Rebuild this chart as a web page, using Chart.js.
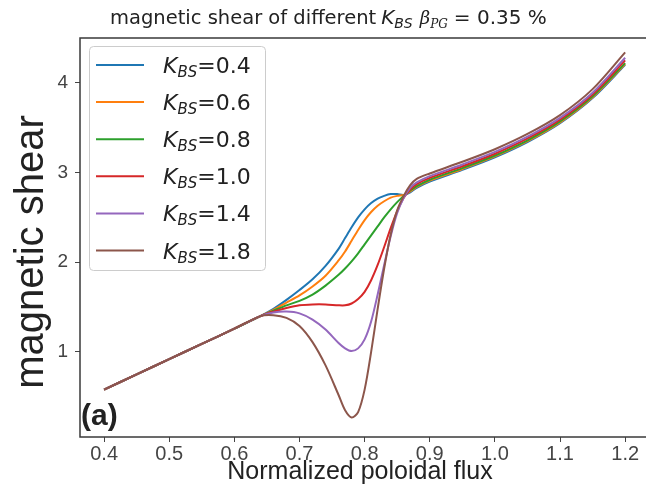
<!DOCTYPE html>
<html>
<head>
<meta charset="utf-8">
<script src="https://cdn.jsdelivr.net/npm/chart.js@4.4.1/dist/chart.umd.min.js"></script>
<style>
  html, body { margin: 0; padding: 0; background: #fff; }
</style>
</head>
<body>
<canvas id="shearCanvas" width="646" height="495"></canvas>
<script>
// normalized poloidal flux (x) shared by every curve
const fluxX = [0.40, 0.45, 0.50, 0.55, 0.60, 0.64, 0.66, 0.68, 0.70, 0.72, 0.74, 0.76, 0.77, 0.78, 0.79, 0.80,
               0.81, 0.82, 0.83, 0.84, 0.85, 0.86, 0.87, 0.88, 0.90, 0.95, 1.00, 1.05, 1.10, 1.15, 1.20];

const kbsLabels = ["0.4", "0.6", "0.8", "1.0", "1.4", "1.8"];

// magnetic shear, one array per K_BS
const shear04 = [0.58, 0.75, 0.92, 1.09, 1.26, 1.40, 1.48, 1.58, 1.69, 1.81, 1.96, 2.15, 2.27, 2.39, 2.50, 2.59,
                 2.66, 2.71, 2.74, 2.76, 2.76, 2.75, 2.78, 2.83, 2.90, 3.03, 3.17, 3.34, 3.55, 3.83, 4.20];
const shear06 = [0.58, 0.75, 0.92, 1.09, 1.26, 1.40, 1.47, 1.55, 1.63, 1.73, 1.85, 2.02, 2.12, 2.24, 2.36, 2.47,
                 2.56, 2.63, 2.68, 2.72, 2.74, 2.75, 2.79, 2.84, 2.91, 3.04, 3.18, 3.35, 3.56, 3.84, 4.21];
const shear08 = [0.58, 0.75, 0.92, 1.09, 1.26, 1.40, 1.46, 1.52, 1.57, 1.64, 1.74, 1.86, 1.93, 2.01, 2.10, 2.20,
                 2.30, 2.40, 2.50, 2.59, 2.67, 2.74, 2.80, 2.85, 2.92, 3.05, 3.19, 3.36, 3.57, 3.85, 4.22];
const shear10 = [0.58, 0.75, 0.92, 1.09, 1.26, 1.40, 1.45, 1.49, 1.52, 1.53, 1.53, 1.52, 1.52, 1.54, 1.59, 1.67,
                 1.80, 1.97, 2.17, 2.38, 2.57, 2.72, 2.81, 2.87, 2.94, 3.07, 3.21, 3.38, 3.59, 3.87, 4.25];
const shear14 = [0.58, 0.75, 0.92, 1.09, 1.26, 1.40, 1.44, 1.45, 1.43, 1.36, 1.25, 1.10, 1.04, 1.01, 1.04, 1.14,
                 1.34, 1.64, 1.97, 2.29, 2.55, 2.72, 2.83, 2.89, 2.96, 3.09, 3.23, 3.40, 3.61, 3.89, 4.28];
const shear18 = [0.58, 0.75, 0.92, 1.09, 1.26, 1.40, 1.41, 1.38, 1.29, 1.11, 0.85, 0.52, 0.35, 0.27, 0.33, 0.58,
                 1.00, 1.48, 1.93, 2.31, 2.58, 2.74, 2.86, 2.93, 2.99, 3.12, 3.26, 3.43, 3.64, 3.93, 4.34];

const xTicks = [0.4, 0.5, 0.6, 0.7, 0.8, 0.9, 1.0, 1.1, 1.2];
const yTicks = [1, 2, 3, 4];

const allShear = [shear04, shear06, shear08, shear10, shear14, shear18];
const lineColors = ["#1f77b4", "#ff7f0e", "#2ca02c", "#d62728", "#9467bd", "#8c564b"];

const datasets = allShear.map((ys, i) => ({
    label: "K_BS=" + kbsLabels[i],
    data: fluxX.map((x, j) => ({ x: x, y: ys[j] })),
    borderColor: lineColors[i],
    borderWidth: 2,
    pointRadius: 0,
    fill: false,
    tension: 0.3,
    order: allShear.length - i   // last curve on top, like matplotlib
}));

// draws a run of text pieces with different fonts / baseline shifts
function drawRich(ctx, x, y, parts) {
    parts.forEach(p => {
        ctx.font = p.font;
        x += p.gap || 0;
        ctx.fillText(p.t, x, y + (p.dy || 0));
        x += ctx.measureText(p.t).width;
    });
    return x;
}

const decorations = {
    id: "decorations",
    afterDatasetsDraw(chart) {
        const ctx = chart.ctx;
        const a = chart.chartArea;
        ctx.save();

        // frame (right side falls off the picture)
        ctx.strokeStyle = "#3a3a3a";
        ctx.lineWidth = 1.5;
        ctx.strokeRect(a.left, a.top, a.right - a.left + 4, a.bottom - a.top);

        ctx.fillStyle = "#222";
        ctx.textBaseline = "alphabetic";
        ctx.textAlign = "left";

        // title
        drawRich(ctx, 110, 24, [
            { t: "magnetic shear of different", font: "19.5px 'DejaVu Sans'" },
            { t: "K", font: "italic 20px 'DejaVu Sans'", gap: 5 },
            { t: "BS", font: "italic 14px 'DejaVu Sans'", dy: 4 },
            { t: "β", font: "italic 18px 'DejaVu Serif'", gap: 7 },
            { t: "PG", font: "italic 12px 'DejaVu Serif'", dy: 4 },
            { t: "= 0.35 %", font: "20px 'DejaVu Sans'", gap: 6 }
        ]);

        // axis titles
        ctx.textAlign = "center";
        ctx.textBaseline = "middle";
        ctx.font = "25px 'Liberation Sans'";
        ctx.fillText("Normalized poloidal flux", 360, 472);
        ctx.save();
        ctx.translate(32, 252);
        ctx.rotate(-Math.PI / 2);
        ctx.font = "40px 'Liberation Sans'";
        ctx.fillText("magnetic shear", 0, 0);
        ctx.restore();

        // panel tag
        ctx.textAlign = "left";
        ctx.textBaseline = "alphabetic";
        ctx.font = "bold 30px 'Liberation Sans'";
        ctx.fillText("(a)", 81, 425);

        // legend
        ctx.fillStyle = "rgba(255,255,255,0.85)";
        ctx.strokeStyle = "#cccccc";
        ctx.lineWidth = 1;
        ctx.beginPath();
        ctx.roundRect(89.5, 46.5, 176, 224, 4);
        ctx.fill();
        ctx.stroke();
        chart.data.datasets.forEach((ds, i) => {
            const rowY = 65 + i * 37.1;
            ctx.strokeStyle = ds.borderColor;
            ctx.lineWidth = 2;
            ctx.beginPath();
            ctx.moveTo(96, rowY);
            ctx.lineTo(144, rowY);
            ctx.stroke();
            ctx.fillStyle = "#222";
            drawRich(ctx, 163, rowY + 8, [
                { t: "K", font: "italic 22px 'DejaVu Sans'" },
                { t: "BS", font: "italic 15px 'DejaVu Sans'", dy: 4 },
                { t: "=" + kbsLabels[i], font: "22px 'DejaVu Sans'" }
            ]);
        });
        ctx.restore();
    }
};

const tickFont = { family: "'Liberation Sans'", size: 20 };

const shearChart = new Chart(document.getElementById("shearCanvas"), {
    type: "line",
    data: { datasets: datasets },
    options: {
        responsive: false,
        animation: false,
        devicePixelRatio: 1,
        layout: { padding: { top: 38, right: 0, left: 0, bottom: 0 } },
        plugins: {
            legend: { display: false },
            title: { display: false },
            tooltip: { enabled: false }
        },
        scales: {
            x: {
                type: "linear",
                min: 0.363,
                max: 1.232,
                afterFit: s => { s.height = 58; },
                afterBuildTicks: s => { s.ticks = xTicks.map(v => ({ value: v })); },
                grid: { drawOnChartArea: false, tickLength: 5, color: "#444" },
                border: { display: false },
                ticks: {
                    color: "#444",
                    font: tickFont,
                    padding: 0,
                    maxRotation: 0,
                    callback: v => v.toFixed(1)
                }
            },
            y: {
                type: "linear",
                min: 0.052,
                max: 4.50,
                afterFit: s => { s.width = 80; },
                afterBuildTicks: s => { s.ticks = yTicks.map(v => ({ value: v })); },
                grid: { drawOnChartArea: false, tickLength: 5, color: "#444" },
                border: { display: false },
                ticks: {
                    color: "#444",
                    font: { family: "'Liberation Sans'", size: 19 },
                    padding: 7,
                    callback: v => String(v)
                }
            }
        }
    },
    plugins: [decorations]
});
</script>
</body>
</html>
